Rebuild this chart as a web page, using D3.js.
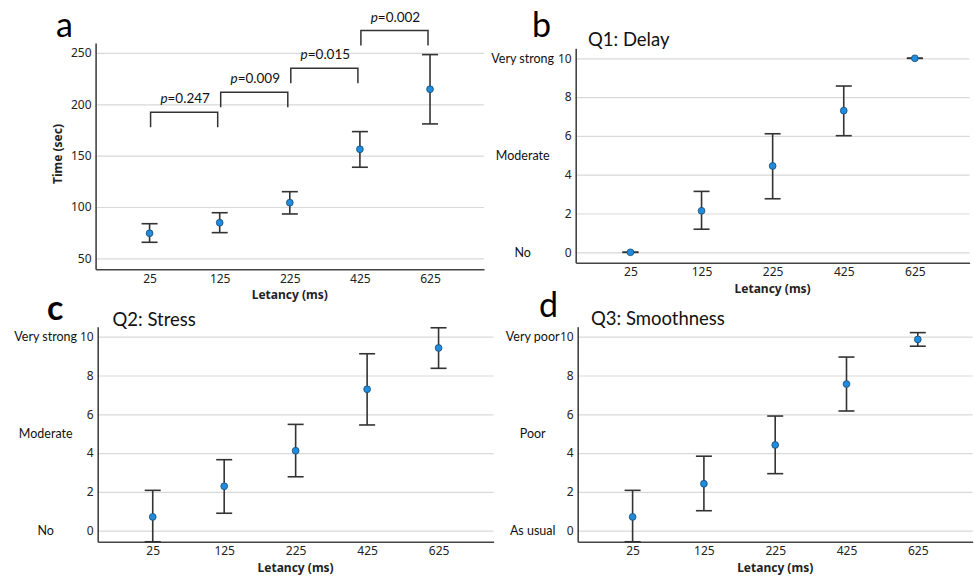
<!DOCTYPE html>
<html>
<head>
<meta charset="utf-8">
<script src="https://cdn.jsdelivr.net/npm/d3@7"></script>
<style>
  body { margin: 0; background: #fff; }
  svg { display: block; }
</style>
</head>
<body>
<div id="chart-area"></div>
<script>
// values
const latency = ["25", "125", "225", "425", "625"];

const timeTicks = [50, 100, 150, 200, 250];
const timeMean = [74.4, 84.7, 104.2, 156.2, 214.7];
const timeLow  = [65.6, 75.0, 93.2, 138.7, 180.9];
const timeHigh = [83.7, 94.4, 114.9, 173.4, 248.4];

const pairs = [["25", "125"], ["125", "225"], ["225", "425"], ["425", "625"]];
const pValues = ["0.247", "0.009", "0.015", "0.002"];
const bracketTop = [192.3, 211.8, 235.2, 271.8];

const ratingTicks = [0, 2, 4, 6, 8, 10];

const delayMean = [0, 2.14, 4.45, 7.30, 10];
const delayLow  = [0, 1.19, 2.76, 6.01, 10];
const delayHigh = [0, 3.14, 6.11, 8.57, 10];

const stressMean = [0.71, 2.29, 4.12, 7.29, 9.42];
const stressLow  = [-0.57, 0.90, 2.78, 5.45, 8.37];
const stressHigh = [2.08, 3.66, 5.48, 9.12, 10.46];

const smoothMean = [0.71, 2.42, 4.42, 7.56, 9.86];
const smoothLow  = [-0.57, 1.03, 2.94, 6.17, 9.51];
const smoothHigh = [2.08, 3.84, 5.91, 8.95, 10.21];

const anchorValues = [0, 5, 10];
const strengthAnchors = ["No", "Moderate", "Very strong"];
const smoothAnchors = ["As usual", "Poor", "Very poor"];

const width = 974, height = 582;

const svg = d3.select("#chart-area").append("svg")
    .attr("width", width)
    .attr("height", height);

function styleTicks(s) {
    s.selectAll(".tick text")
        .attr("font-family", "Noto Sans, sans-serif")
        .attr("font-size", "12px")
        .attr("fill", "#222");
}

function drawPanel(p) {
    const g = svg.append("g");

    const x = d3.scalePoint()
        .domain(latency)
        .range([p.left, p.right])
        .padding(0.77);

    const y = d3.scaleLinear()
        .domain(p.yDomain)
        .range([p.bottom, p.top]);

    // gridlines
    g.append("g")
        .attr("transform", `translate(${p.left},0)`)
        .call(d3.axisLeft(y).tickValues(p.ticks).tickSize(-(p.right - p.left)).tickFormat(""))
        .call(s => s.select(".domain").remove())
        .selectAll("line")
            .attr("stroke", "#d9d9d9")
            .attr("stroke-width", 1.2);

    // y axis
    g.append("g")
        .attr("transform", `translate(${p.left},0)`)
        .call(d3.axisLeft(y).tickValues(p.ticks).tickSize(0).tickSizeOuter(0).tickPadding(4))
        .call(s => s.select(".domain").attr("stroke", "#444").attr("stroke-width", 1.6))
        .call(styleTicks);

    // x axis
    g.append("g")
        .attr("transform", `translate(0,${p.bottom})`)
        .call(d3.axisBottom(x).tickSize(0).tickSizeOuter(0).tickPadding(5))
        .call(s => s.select(".domain").attr("stroke", "#444").attr("stroke-width", 1.6))
        .call(styleTicks);

    g.append("text")
        .attr("x", (p.left + p.right) / 2)
        .attr("y", p.bottom + 30)
        .attr("text-anchor", "middle")
        .attr("font-family", "Noto Sans, sans-serif")
        .attr("font-weight", "bold")
        .attr("font-size", "12px")
        .attr("fill", "#222")
        .text("Letancy (ms)");

    if (p.anchors) {
        g.selectAll(".anchor")
            .data(p.anchors)
            .enter().append("text")
            .attr("x", p.left - p.anchorOffset)
            .attr("y", (d, i) => y(anchorValues[i]))
            .attr("dy", "0.35em")
            .attr("text-anchor", "middle")
            .attr("font-family", "Lato, sans-serif")
            .attr("font-size", "12.5px")
            .attr("fill", "#111")
            .text(d => d);
    }

    if (p.title) {
        g.append("text")
            .attr("x", p.titleX)
            .attr("y", p.titleY)
            .attr("font-family", "Lato, sans-serif")
            .attr("font-size", "18.5px")
            .attr("fill", "#111")
            .text(p.title);
    }

    g.append("text")
        .attr("x", p.letterX)
        .attr("y", p.letterY)
        .attr("font-family", "Lato, sans-serif")
        .attr("font-size", "34px")
        .attr("font-weight", p.letterBold ? "bold" : "normal")
        .attr("fill", "#000")
        .text(p.letter);

    const rows = latency.map((d, i) => ({
        cat: d, mean: p.mean[i], low: p.low[i], high: p.high[i]
    }));

    const bars = g.append("g")
        .attr("stroke", "#333")
        .attr("stroke-width", 1.6);

    bars.selectAll(".whisker")
        .data(rows)
        .enter().append("line")
        .attr("x1", d => x(d.cat))
        .attr("x2", d => x(d.cat))
        .attr("y1", d => y(d.low))
        .attr("y2", d => y(d.high));

    bars.selectAll(".capHi")
        .data(rows)
        .enter().append("line")
        .attr("x1", d => x(d.cat) - 8)
        .attr("x2", d => x(d.cat) + 8)
        .attr("y1", d => y(d.high))
        .attr("y2", d => y(d.high));

    bars.selectAll(".capLo")
        .data(rows)
        .enter().append("line")
        .attr("x1", d => x(d.cat) - 8)
        .attr("x2", d => x(d.cat) + 8)
        .attr("y1", d => y(d.low))
        .attr("y2", d => y(d.low));

    g.selectAll(".dot")
        .data(rows)
        .enter().append("circle")
        .attr("cx", d => x(d.cat))
        .attr("cy", d => y(d.mean))
        .attr("r", 3.4)
        .attr("fill", "#1f8ce0")
        .attr("stroke", "#1b4a70")
        .attr("stroke-width", 0.8);

    return { x, y, g };
}

// a: completion time
const a = drawPanel({
    left: 95.6, right: 484, top: 43, bottom: 269.3,
    yDomain: [39.3, 259.7], ticks: timeTicks,
    mean: timeMean, low: timeLow, high: timeHigh,
    letter: "a", letterX: 56, letterY: 37
});

a.g.append("text")
    .attr("transform", "translate(62,154) rotate(-90)")
    .attr("text-anchor", "middle")
    .attr("font-family", "Noto Sans, sans-serif")
    .attr("font-weight", "bold")
    .attr("font-size", "12px")
    .attr("fill", "#222")
    .text("Time (sec)");

pairs.forEach((pr, i) => {
    const x1 = a.x(pr[0]) + 1, x2 = a.x(pr[1]) - 2;
    const yt = a.y(bracketTop[i]);
    a.g.append("path")
        .attr("d", `M${x1},${yt + 15}V${yt}H${x2}V${yt + 15}`)
        .attr("fill", "none")
        .attr("stroke", "#333")
        .attr("stroke-width", 1.5);
    const t = a.g.append("text")
        .attr("x", (x1 + x2) / 2 + 1)
        .attr("y", yt - 9)
        .attr("text-anchor", "middle")
        .attr("font-family", "Lato, sans-serif")
        .attr("font-size", "13.5px")
        .attr("fill", "#111");
    t.append("tspan").attr("font-style", "italic").text("p");
    t.append("tspan").text("=" + pValues[i]);
});

// b: delay rating
drawPanel({
    left: 575.7, right: 969.6, top: 48.3, bottom: 262.7,
    yDomain: [-0.536, 10.515], ticks: ratingTicks,
    mean: delayMean, low: delayLow, high: delayHigh,
    anchors: strengthAnchors, anchorOffset: 53,
    title: "Q1: Delay", titleX: 588, titleY: 46,
    letter: "b", letterX: 532, letterY: 37
});

// c: stress rating
drawPanel({
    left: 97.7, right: 493.6, top: 326.7, bottom: 541.7,
    yDomain: [-0.567, 10.515], ticks: ratingTicks,
    mean: stressMean, low: stressLow, high: stressHigh,
    anchors: strengthAnchors, anchorOffset: 52,
    title: "Q2: Stress", titleX: 112.5, titleY: 326,
    letter: "c", letterX: 47, letterY: 320, letterBold: true
});

// d: smoothness rating
drawPanel({
    left: 577.7, right: 972.7, top: 326.7, bottom: 541.7,
    yDomain: [-0.567, 10.515], ticks: ratingTicks,
    mean: smoothMean, low: smoothLow, high: smoothHigh,
    anchors: smoothAnchors, anchorOffset: 45,
    title: "Q3: Smoothness", titleX: 591, titleY: 325,
    letter: "d", letterX: 539, letterY: 317
});
</script>
</body>
</html>
